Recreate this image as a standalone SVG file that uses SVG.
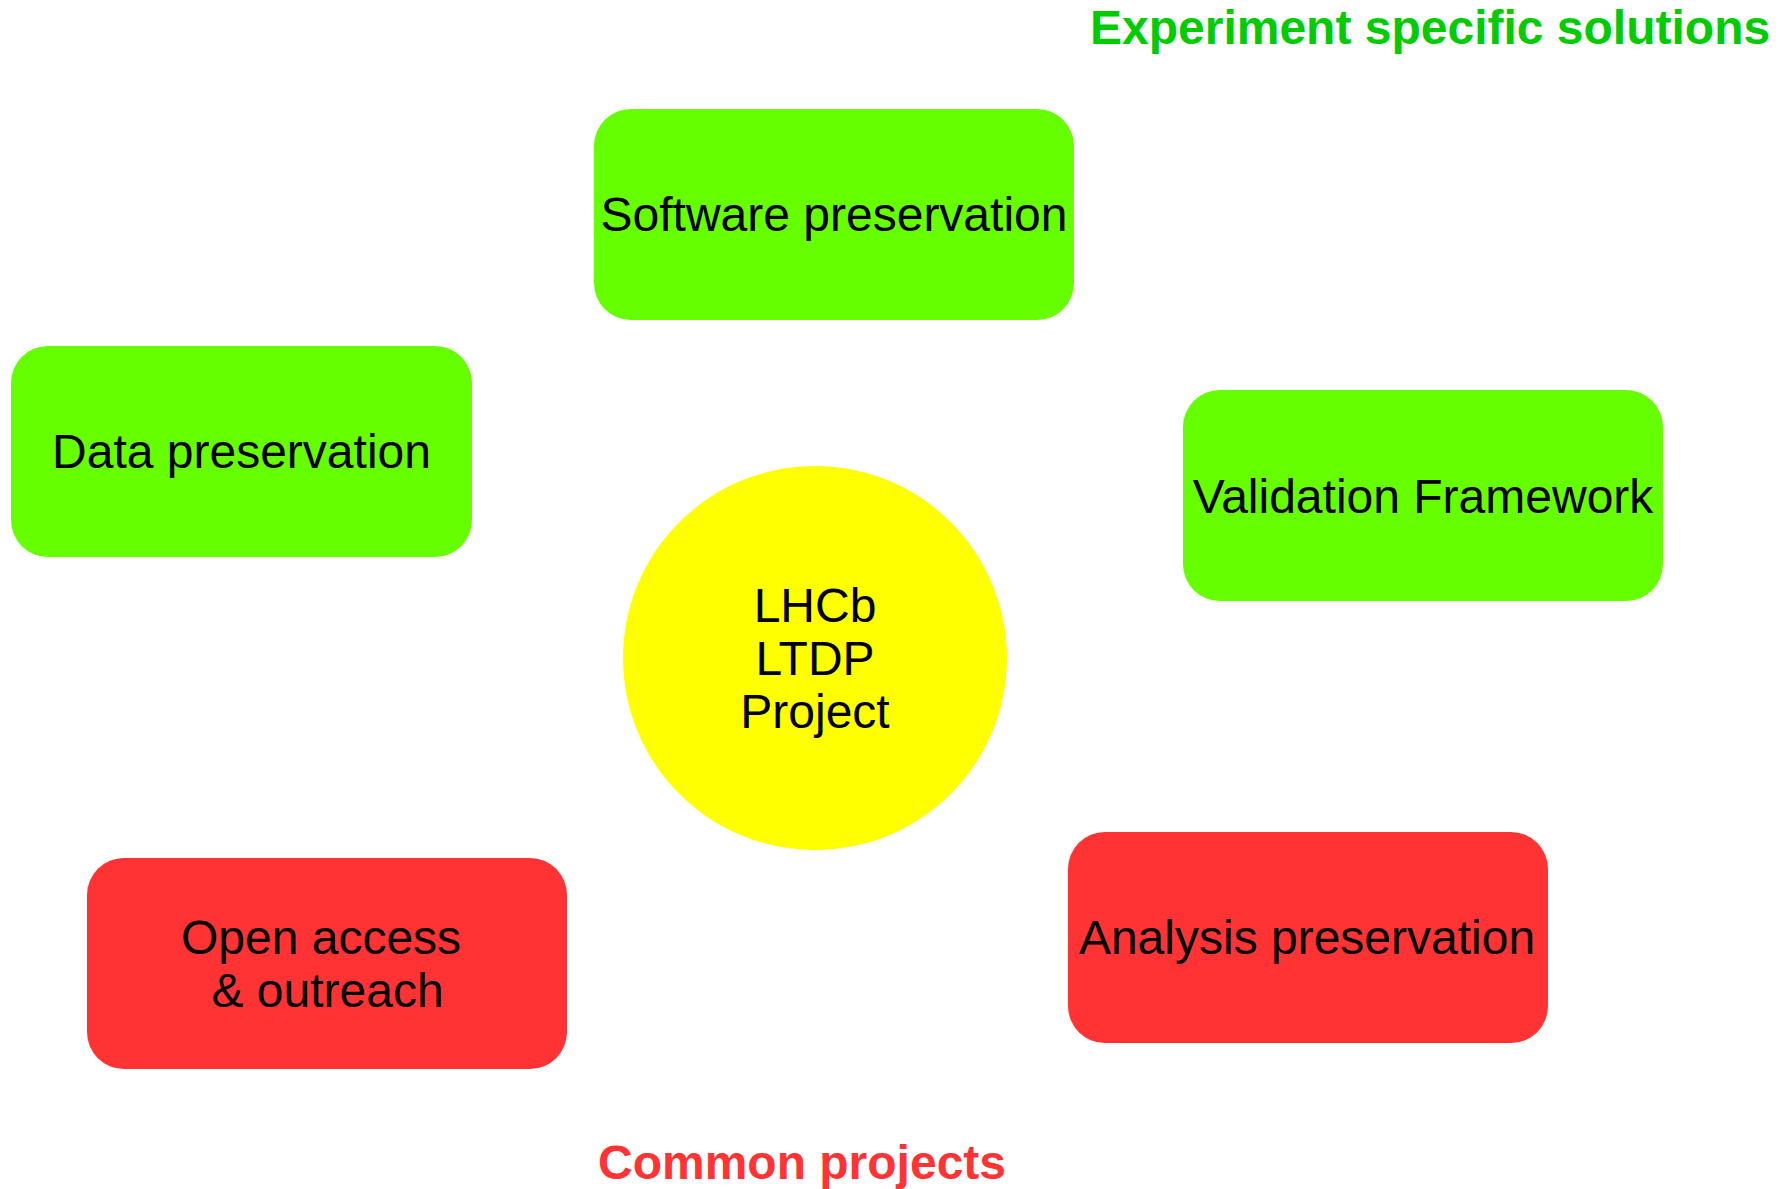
<svg xmlns="http://www.w3.org/2000/svg" width="1789" height="1189" viewBox="0 0 1789 1189">
  <style>
    .box { stroke: none; }
    .exp { fill: #66ff00; }
    .common { fill: #ff3333; }
    .core { fill: #ffff00; }
    .label { font-family: "Liberation Sans", Arial, sans-serif; font-size: 48px; fill: #000000; text-anchor: middle; }
    .heading { font-family: "Liberation Sans", Arial, sans-serif; font-size: 48px; font-weight: bold; }
  </style>
  <rect width="1789" height="1189" fill="#ffffff"/>

  <!-- section headings -->
  <text class="heading" x="1090" y="44" fill="#00cc00">Experiment specific solutions</text>
  <text class="heading" x="802" y="1179" fill="#ff3333" text-anchor="middle">Common projects</text>

  <!-- no links between the nodes -->
  <g id="connectors"></g>

  <g id="software-preservation">
    <rect class="box exp" x="594" y="109" width="480" height="211" rx="37" ry="37"/>
    <text class="label" x="834" y="231">Software preservation</text>
  </g>

  <g id="data-preservation">
    <rect class="box exp" x="11" y="346" width="461" height="211" rx="37" ry="37"/>
    <text class="label" x="241.5" y="468">Data preservation</text>
  </g>

  <g id="validation-framework">
    <rect class="box exp" x="1183" y="390" width="480" height="211" rx="37" ry="37"/>
    <text class="label" x="1423" y="513">Validation Framework</text>
  </g>

  <g id="ltdp-project">
    <circle class="core" cx="815" cy="658" r="192"/>
    <text class="label" x="815" y="622">LHCb</text>
    <text class="label" x="815" y="675">LTDP</text>
    <text class="label" x="815" y="728">Project</text>
  </g>

  <g id="open-access">
    <rect class="box common" x="87" y="858" width="480" height="211" rx="37" ry="37"/>
    <text class="label" x="321" y="954">Open access</text>
    <text class="label" x="327.5" y="1007">&amp; outreach</text>
  </g>

  <g id="analysis-preservation">
    <rect class="box common" x="1068" y="832" width="480" height="211" rx="37" ry="37"/>
    <text class="label" x="1307" y="954">Analysis preservation</text>
  </g>
</svg>
